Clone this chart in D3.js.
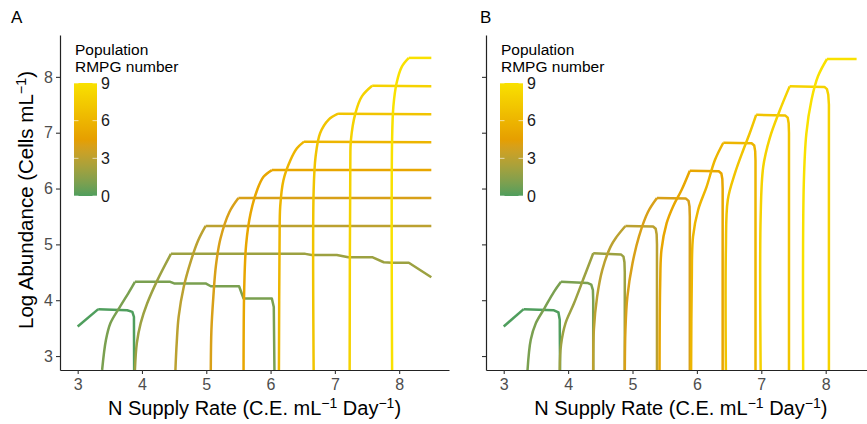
<!DOCTYPE html>
<html>
<head>
<meta charset="utf-8">
<script src="https://cdn.jsdelivr.net/npm/d3@7"></script>
<style>
  body { margin: 0; background: #fff; }
  text { font-family: "Liberation Sans", Arial, sans-serif; }
</style>
</head>
<body>
<svg width="867" height="424"></svg>
<script>
// RMPG number of each population (colour)
var rmpg = [0, 1, 2, 3, 4, 5, 6, 7, 8, 9]
var xTicks = [3, 4, 5, 6, 7, 8]
var yTicks = [3, 4, 5, 6, 7, 8]
var legendTicks = [0, 3, 6, 9]

// panel A : [N supply rate, log abundance] for each population
var seriesA = [
  [[3.0,3.53],[3.32,3.84],[3.77,3.82],[3.85,3.79],[3.875,3.70],[3.878,2.75]],
  [[3.38,2.75],[3.44,3.29],[3.51,3.59],[3.64,3.85],[3.80,4.15],[3.89,4.33],[4.44,4.33],[4.50,4.30],[4.99,4.30],[5.07,4.25],[5.51,4.25],[5.58,4.03],[6.02,4.03],[6.05,3.88],[6.06,2.75]],
  [[3.89,2.75],[3.92,3.23],[3.98,3.59],[4.08,3.94],[4.24,4.36],[4.45,4.83],[6.54,4.83],[6.64,4.81],[7.03,4.81],[7.21,4.77],[7.58,4.77],[7.76,4.68],[7.89,4.67],[8.15,4.67],[8.5,4.41]],
  [[4.52,2.75],[4.54,3.23],[4.57,3.70],[4.65,4.24],[4.76,4.70],[4.87,5.06],[4.99,5.33],[8.5,5.33]],
  [[5.07,2.75],[5.08,3.47],[5.11,4.06],[5.15,4.62],[5.22,5.10],[5.36,5.58],[5.50,5.83],[8.5,5.83]],
  [[5.58,2.75],[5.59,4.20],[5.62,5.00],[5.69,5.56],[5.79,5.97],[5.89,6.21],[6.02,6.33],[8.5,6.33]],
  [[6.13,2.75],[6.14,5.08],[6.15,5.68],[6.20,6.15],[6.31,6.51],[6.41,6.72],[6.52,6.84],[8.5,6.83]],
  [[6.67,2.75],[6.67,5.97],[6.70,6.57],[6.77,6.99],[6.90,7.23],[7.05,7.34],[8.5,7.33]],
  [[7.23,2.75],[7.24,6.40],[7.25,6.87],[7.32,7.35],[7.42,7.65],[7.58,7.84],[8.5,7.83]],
  [[7.89,2.75],[7.89,6.87],[7.91,7.47],[7.96,7.89],[8.04,8.18],[8.15,8.34],[8.5,8.34]]
]

// panel B
var seriesB = [
  [[3.0,3.53],[3.31,3.84],[3.78,3.82],[3.85,3.78],[3.87,3.65],[3.875,2.75]],
  [[3.37,2.75],[3.42,3.29],[3.50,3.59],[3.63,3.85],[3.78,4.15],[3.89,4.33],[4.30,4.31],[4.36,4.28],[4.385,4.18],[4.39,4.0],[4.39,2.75]],
  [[3.87,2.75],[3.89,3.20],[3.96,3.59],[4.09,3.94],[4.25,4.42],[4.39,4.84],[4.82,4.82],[4.86,4.78],[4.875,4.68],[4.88,4.50],[4.88,2.75]],
  [[4.39,2.75],[4.40,3.47],[4.45,4.06],[4.53,4.54],[4.66,4.96],[4.75,5.13],[4.89,5.33],[5.32,5.32],[5.36,5.28],[5.375,5.18],[5.38,5.00],[5.38,2.75]],
  [[4.88,2.75],[4.89,3.47],[4.92,4.06],[5.00,4.66],[5.10,5.14],[5.24,5.58],[5.38,5.83],[5.83,5.82],[5.87,5.78],[5.885,5.68],[5.89,5.50],[5.89,2.75]],
  [[5.42,2.75],[5.43,4.30],[5.45,4.90],[5.53,5.38],[5.63,5.68],[5.76,5.97],[5.89,6.32],[6.34,6.31],[6.38,6.27],[6.395,6.17],[6.40,6.00],[6.40,2.75]],
  [[5.91,2.75],[5.92,4.30],[5.94,5.14],[6.02,5.62],[6.15,6.03],[6.28,6.51],[6.41,6.82],[6.85,6.81],[6.89,6.77],[6.905,6.67],[6.91,6.50],[6.91,2.75]],
  [[6.45,2.75],[6.45,4.90],[6.48,5.80],[6.59,6.27],[6.72,6.69],[6.82,6.99],[6.92,7.32],[7.37,7.31],[7.41,7.27],[7.425,7.17],[7.43,7.00],[7.43,2.75]],
  [[6.99,2.75],[6.99,5.50],[7.03,6.39],[7.13,6.90],[7.28,7.38],[7.44,7.83],[7.98,7.82],[8.02,7.78],[8.04,7.68],[8.05,7.50],[8.05,2.75]],
  [[7.65,2.75],[7.66,6.09],[7.70,6.99],[7.78,7.59],[7.88,8.01],[8.02,8.32],[8.48,8.32]]
]

var svg = d3.select('svg')

var color = d3.scaleLinear()
    .domain([0, 4.5, 9])
    .range(['#4f9e5d', '#e69f00', '#f9e100'])
    .interpolate(d3.interpolateLab)

var y = d3.scaleLinear().domain([2.75, 8.75]).range([370, 35])

// gradient for the colour bar
var grad = svg.append('defs').append('linearGradient')
    .attr('id', 'cbar')
    .attr('x1', 0).attr('x2', 0).attr('y1', 1).attr('y2', 0)
grad.selectAll('stop')
    .data(d3.range(0, 9.01, 0.5))
    .enter().append('stop')
    .attr('offset', function(d){ return d / 9 })
    .attr('stop-color', function(d){ return color(d) })

function superText(sel, parts, size) {
  var up = size * 0.35
  parts.forEach(function(p, i){
    var t = sel.append('tspan').text(p[0])
    if (p[1]) t.attr('dy', -up).attr('font-size', size * 0.7)
    else if (i > 0 && parts[i - 1][1]) t.attr('dy', up)
  })
}

// split a series where the rising curve ends (first point that stops climbing)
function splitRise(pts) {
  var k = 0
  while (k < pts.length - 1 && pts[k + 1][1] - pts[k][1] > 0.05) k++
  return [pts.slice(0, k + 1), pts.slice(k)]
}

function panel(data, x0, x1, letter, letterX, showY, clipId) {
  var x = d3.scaleLinear().domain([2.725, 8.775]).range([x0, x1])
  var g = svg.append('g')

  g.append('clipPath').attr('id', clipId)
    .append('rect')
    .attr('x', x0).attr('y', y.range()[1] - 5)
    .attr('width', x1 - x0).attr('height', y.range()[0] - y.range()[1] + 5)

  var smooth = d3.line()
      .x(function(d){ return x(d[0]) })
      .y(function(d){ return y(d[1]) })
      .curve(d3.curveCatmullRom.alpha(0.5))
  var straight = d3.line()
      .x(function(d){ return x(d[0]) })
      .y(function(d){ return y(d[1]) })

  var s = g.append('g').attr('clip-path', 'url(#' + clipId + ')')
    .selectAll('g')
    .data(data)
    .enter()
    .append('g')
    .attr('fill', 'none')
    .attr('stroke', function(d, i){ return color(rmpg[i]) })
    .attr('stroke-width', 2.5)
    .attr('stroke-linejoin', 'round')
  s.append('path').attr('d', function(d){
    var parts = splitRise(d)
    return parts[0].length > 1 ? smooth(parts[0]) : null
  })
  s.append('path').attr('d', function(d){
    var parts = splitRise(d)
    return parts[1].length > 1 ? straight(parts[1]) : null
  })

  // axes
  var xAxis = g.append('g')
      .attr('transform', 'translate(0,370)')
      .call(d3.axisBottom(x).tickValues(xTicks).tickSize(4).tickSizeOuter(0).tickFormat(d3.format('d')))
  var yAxis = g.append('g')
      .attr('transform', 'translate(' + x0 + ',0)')
      .call(d3.axisLeft(y).tickValues(yTicks).tickSize(4).tickSizeOuter(0)
            .tickFormat(showY ? d3.format('d') : ''))
  ;[xAxis, yAxis].forEach(function(a){
    a.select('.domain').attr('stroke', '#222').attr('stroke-width', 1.2)
    a.selectAll('.tick line').attr('stroke', '#333').attr('stroke-width', 1.1)
    a.selectAll('.tick text').attr('fill', '#4d4d4d').attr('font-size', 16)
  })
  xAxis.selectAll('.tick text').attr('dy', '0.8em')
  yAxis.selectAll('.tick text').attr('x', -7)

  // x title
  var xt = g.append('text')
      .attr('x', (x0 + x1) / 2).attr('y', 415)
      .attr('text-anchor', 'middle')
      .attr('font-size', 20)
  superText(xt, [['N Supply Rate (C.E. mL', false], ['\u22121', true], [' Day', false], ['\u22121', true], [')', false]], 20)

  // panel letter
  g.append('text').attr('x', letterX).attr('y', 23)
    .attr('font-size', 17).text(letter)

  // legend
  var lx = x0 + 15
  g.append('text').attr('x', lx).attr('y', 55).attr('font-size', 15.5).text('Population')
  g.append('text').attr('x', lx).attr('y', 72).attr('font-size', 15.5).text('RMPG number')
  var ly = d3.scaleLinear().domain([0, 9]).range([196, 83])
  g.append('rect')
    .attr('x', lx - 1).attr('y', ly(9)).attr('width', 23).attr('height', ly(0) - ly(9))
    .attr('fill', 'url(#cbar)')
  var lt = g.selectAll('.ltick').data(legendTicks).enter().append('g')
  lt.append('line')
    .attr('x1', lx - 1).attr('x2', lx + 3.5)
    .attr('y1', function(d){ return ly(d) }).attr('y2', function(d){ return ly(d) })
    .attr('stroke', '#fff').attr('stroke-width', 0.8).attr('opacity', 0.8)
  lt.append('line')
    .attr('x1', lx + 17.5).attr('x2', lx + 22)
    .attr('y1', function(d){ return ly(d) }).attr('y2', function(d){ return ly(d) })
    .attr('stroke', '#fff').attr('stroke-width', 0.8).attr('opacity', 0.8)
  lt.append('text')
    .attr('x', lx + 26).attr('y', function(d){ return ly(d) })
    .attr('dy', '0.36em').attr('font-size', 16).attr('fill', '#1a1a1a')
    .text(function(d){ return d })
}

panel(seriesA, 60, 449, 'A', 11, true, 'clipA')
panel(seriesB, 486, 875.6, 'B', 480, false, 'clipB')

// y title (shared)
var yt = svg.append('text')
    .attr('transform', 'translate(33,200) rotate(-90)')
    .attr('text-anchor', 'middle')
    .attr('font-size', 20.5)
superText(yt, [['Log Abundance (Cells mL', false], ['\u22121', true], [')', false]], 20.5)
</script>
</body>
</html>
